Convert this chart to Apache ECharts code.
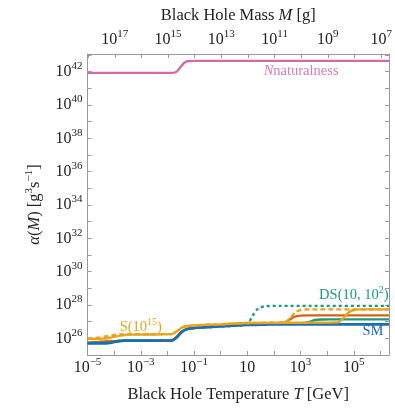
<!DOCTYPE html>
<html>
<head>
<meta charset="UTF-8">
<script src="https://cdn.jsdelivr.net/npm/echarts@6/dist/echarts.min.js"></script>
<style>
  html, body { margin: 0; padding: 0; background: #fff; }
  #chart { width: 395px; height: 411px; }
</style>
</head>
<body>
<div id="chart"></div>
<script>
// log10 T [GeV] and log10 alpha [g^3 s^-1]
const smT = [-5, -4.3, -4.1, -3.85, -3.6, -1.85, -1.65, -1.45, -1.25, -1.0, 0, 1.0, 2.0, 6.32];
const smA = [25.70, 25.70, 25.74, 25.82, 25.86, 25.87, 26.05, 26.40, 26.56, 26.62, 26.72, 26.80, 26.84, 26.84];

const sT = [-5, -4.4, -4.1, -3.8, -3.4, -1.85, -1.65, -1.45, -1.25, -1.0, 0, 1.0, 4.4, 4.6, 4.8, 5.0, 5.2, 6.32];
const sA = [25.97, 25.98, 26.06, 26.15, 26.22, 26.25, 26.42, 26.65, 26.74, 26.78, 26.84, 26.92, 26.96, 27.2, 27.55, 27.70, 27.74, 27.74];

const sdT = [-5, -4.6, -4.3, -4.0, -3.7, -1.85, -1.65, -1.45, -1.25, -1.0, 0, 1.0, 2.4, 2.6, 2.8, 3.0, 3.3, 6.32];
const sdA = [26.00, 26.04, 26.12, 26.20, 26.24, 26.26, 26.42, 26.65, 26.74, 26.78, 26.84, 26.92, 26.96, 27.2, 27.55, 27.70, 27.74, 27.74];

const doT = [-5, -3.6, -1.85, -1.45, -1.2, 1.0, 2.35, 2.55, 2.75, 3.0, 3.3, 6.32];
const doA = [25.72, 25.86, 25.87, 26.40, 26.58, 26.85, 26.92, 27.08, 27.28, 27.36, 27.38, 27.38];

const gT = [-5, -3.6, -1.85, -1.45, -1.2, 1.0, 3.15, 3.35, 3.55, 3.8, 4.1, 6.32];
const gA = [25.72, 25.86, 25.87, 26.40, 26.58, 26.85, 26.92, 27.0, 27.1, 27.13, 27.14, 27.14];

const dsT = [-5, -3.6, -1.85, -1.45, -1.2, 0.9, 1.05, 1.2, 1.35, 1.5, 1.7, 2.2, 6.32];
const dsA = [25.72, 25.86, 25.87, 26.40, 26.58, 26.80, 26.95, 27.35, 27.70, 27.86, 27.93, 27.95, 27.95];

const nnT = [-5, -1.8, -1.65, -1.5, -1.35, -1.2, -0.9, 6.32];
const nnA = [41.93, 41.93, 42.0, 42.3, 42.55, 42.63, 42.65, 42.65];

// axis ticks
const tLabels = [-5, -3, -1, 1, 3, 5];
const aLabels = [26, 28, 30, 32, 34, 36, 38, 40, 42];
const massTicks = [7, 8, 9, 10, 11, 12, 13, 14, 15, 16, 17, 18];
const massLabels = [7, 9, 11, 13, 15, 17];
const massConst = 13.025; // log10 M[g] = 13.025 - log10 T[GeV]

// annotations: [log T, log alpha]
const annPos = [[5.0, 28.6], [5.72, 26.4], [-3.0, 26.68], [3.02, 42.04]];

const F = 'Liberation Serif';
const BLUE = '#1b6eb0', ORANGE = '#e9a31c', DORANGE = '#d5621a', GREEN = '#1a9c78', PINK = '#d06aa8';

const pair = (t, a) => t.map((v, i) => [v, a[i]]);
const isInt = v => Math.abs(v - Math.round(v)) < 1e-6;
const pow = n => n === 1 ? '{b|10}' : '{b|10}{e|' + String(n).replace('-', '\u2212') + '}';

const rich = {
  b: { fontFamily: F, fontSize: 16, color: '#222', lineHeight: 22 },
  e: { fontFamily: F, fontSize: 11, color: '#222', lineHeight: 14, verticalAlign: 'top' }
};
const nameRich = {
  n: { fontFamily: F, fontSize: 16.5, color: '#222', lineHeight: 22 },
  i: { fontFamily: F, fontSize: 16.5, color: '#222', fontStyle: 'italic', lineHeight: 22 },
  e: { fontFamily: F, fontSize: 11, color: '#222', lineHeight: 13, verticalAlign: 'top' }
};
const frame = { show: true, onZero: false, lineStyle: { color: '#999', width: 1 } };
const ticks = { show: true, inside: true, length: 4, lineStyle: { color: '#999' } };

const chart = echarts.init(document.getElementById('chart'));

function line(data, color, extra) {
  return Object.assign({
    type: 'line', data: data, showSymbol: false, smooth: 0.25,
    lineStyle: { color: color, width: 2.4 }, itemStyle: { color: color }
  }, extra || {});
}

chart.setOption({
  animation: false,
  grid: { left: 87.5, right: 6, top: 54, bottom: 56 },
  xAxis: [{
    type: 'value', position: 'bottom', min: -5, max: 6.32, interval: 1,
    axisLine: frame, axisTick: ticks, splitLine: { show: false },
    axisLabel: {
      margin: 2, rich: rich,
      formatter: v => (isInt(v) && tLabels.includes(Math.round(v))) ? pow(Math.round(v)) : ''
    },
    name: '{n|Black Hole Temperature }{i|T}{n| [GeV]}',
    nameLocation: 'middle', nameGap: 29, nameTextStyle: { rich: nameRich }
  }, {
    type: 'value', position: 'top', min: -5, max: 6.32,
    axisLine: frame, splitLine: { show: false },
    axisTick: Object.assign({ customValues: massTicks.map(m => massConst - m) }, ticks),
    axisLabel: {
      margin: 3, rich: rich,
      customValues: massLabels.map(m => massConst - m),
      formatter: v => pow(Math.round(massConst - v))
    },
    name: '{n|Black Hole Mass }{i|M}{n| [g]}',
    nameLocation: 'middle', nameGap: 25, nameTextStyle: { rich: nameRich }
  }],
  yAxis: [{
    type: 'value', position: 'left', min: 25, max: 43.06, interval: 1,
    axisLine: frame, axisTick: ticks, splitLine: { show: false },
    axisLabel: {
      margin: 5, rich: rich,
      formatter: v => (isInt(v) && aLabels.includes(Math.round(v))) ? pow(Math.round(v)) : ''
    },
    name: '{i|\u03b1}{n|(}{i|M}{n|) [g}{e|3}{n|s}{e|\u22121}{n|]}',
    nameLocation: 'middle', nameGap: 42, nameTextStyle: { rich: nameRich }
  }, {
    type: 'value', position: 'right', min: 25, max: 43.06, interval: 1,
    axisLine: frame, axisTick: ticks, splitLine: { show: false },
    axisLabel: { show: false }
  }],
  series: [
    line(pair(dsT, dsA), GREEN, { lineStyle: { color: GREEN, width: 2.4, type: [3, 3] } }),
    line(pair(gT, gA), GREEN),
    line(pair(doT, doA), DORANGE),
    line(pair(smT, smA), BLUE, { lineStyle: { color: BLUE, width: 2.7 } }),
    line(pair(sdT, sdA), ORANGE, { lineStyle: { color: ORANGE, width: 2.4, type: [5, 3] } }),
    line(pair(sT, sA), ORANGE),
    line(pair(nnT, nnA), PINK)
  ]
});

const annText = [
  '{n|DS(10, 10}{e|2}{n|)}',
  '{n|SM}',
  '{n|S(10}{e|15}{n|)}',
  '{i|N}{n|naturalness}'
];
const annColor = [GREEN, BLUE, ORANGE, '#d77db5'];

chart.setOption({
  graphic: annPos.map((p, k) => {
    const px = chart.convertToPixel({ xAxisIndex: 0, yAxisIndex: 0 }, p);
    const c = annColor[k];
    return {
      type: 'text', x: px[0], y: px[1], z: 100,
      style: {
        text: annText[k], align: 'center', verticalAlign: 'middle',
        rich: {
          n: { fontFamily: F, fontSize: 14.5, fill: c, lineHeight: 20 },
          i: { fontFamily: F, fontSize: 14.5, fill: c, fontStyle: 'italic', lineHeight: 20 },
          e: { fontFamily: F, fontSize: 10, fill: c, lineHeight: 12, verticalAlign: 'top' }
        }
      }
    };
  })
});
</script>
</body>
</html>
